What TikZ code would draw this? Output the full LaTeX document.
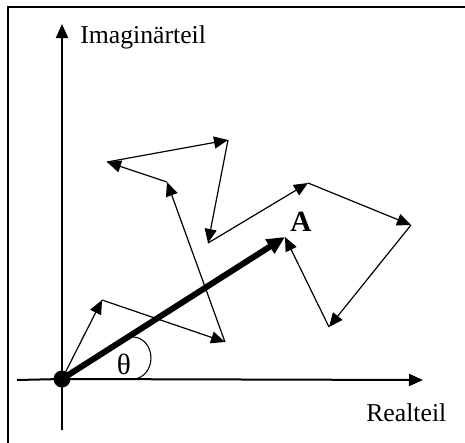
\documentclass[tikz,border=0pt]{standalone}
\usepackage{fontspec}
\newfontfamily\libserif{Liberation Serif}
\usetikzlibrary{arrows.meta}
\tikzset{
  axisline/.style={line width=1.5pt,-{Triangle[length=10.5pt,width=9pt]}},
  vecline/.style={line width=0.9pt,-{Triangle[length=10.5pt,width=9pt]}},
  resline/.style={line width=4.5pt,-{Triangle[length=13.5pt,width=12pt]}},
  lbl/.style={inner sep=0pt,font=\libserif\fontsize{19.3}{21}\selectfont},
}
\begin{document}
\begin{tikzpicture}[x=0.75pt,y=-0.75pt]
\useasboundingbox (0,0) rectangle (465,443);
% frame
\draw[line width=1.5pt] (8,7) rectangle (480,460);
% axis coordinates
\coordinate (xs) at (17,380);
\coordinate (xe) at (423,380);
\coordinate (ys) at (62,430);
\coordinate (ye) at (62,24);
\coordinate (o) at (62,379);
% axes
\draw[line width=1.5pt] (ys) -- (o);
\draw[axisline] (o) -- (ye);
\draw[line width=1.5pt] (xs) -- (o);
\draw[axisline] (o) -- (xe);
% labels
\node[lbl,anchor=base west] (im) at (80,43) {Imaginärteil};
\node[lbl,anchor=base west] (re) at (366,421) {Realteil};
% chain points
\coordinate (p1) at (102,300);
\coordinate (p2) at (225,342);
\coordinate (p3) at (167,182);
\coordinate (p4) at (107,162);
\coordinate (p5) at (228,140);
\coordinate (p6) at (208,243);
\coordinate (p7) at (308,183);
\coordinate (p8) at (411,225);
\coordinate (p9) at (329,327);
\coordinate (a) at (285,237);
% chain of vectors
\draw[vecline] (o) -- (p1);
\draw[vecline] (p1) -- (p2);
\draw[vecline] (p2) -- (p3);
\draw[vecline] (p3) -- (p4);
\draw[vecline] (p4) -- (p5);
\draw[vecline] (p5) -- (p6);
\draw[vecline] (p6) -- (p7);
\draw[vecline] (p7) -- (p8);
\draw[vecline] (p8) -- (p9);
\draw[vecline] (p9) -- (a);
% resulting vector
\draw[resline] (o) -- (a);
\node[inner sep=0pt,font=\libserif\bfseries\fontsize{22}{24}\selectfont] (alabel) at (301,222) {A};
% angle
\draw[line width=0.8pt] (133,337) arc[start angle=-90,end angle=90,x radius=18,y radius=21];
\node[inner sep=0pt,font=\libserif\fontsize{22}{24}\selectfont] (theta) at (124,364) {θ};
% origin dot
\fill (o) circle[radius=8.5];
\end{tikzpicture}
\end{document}
